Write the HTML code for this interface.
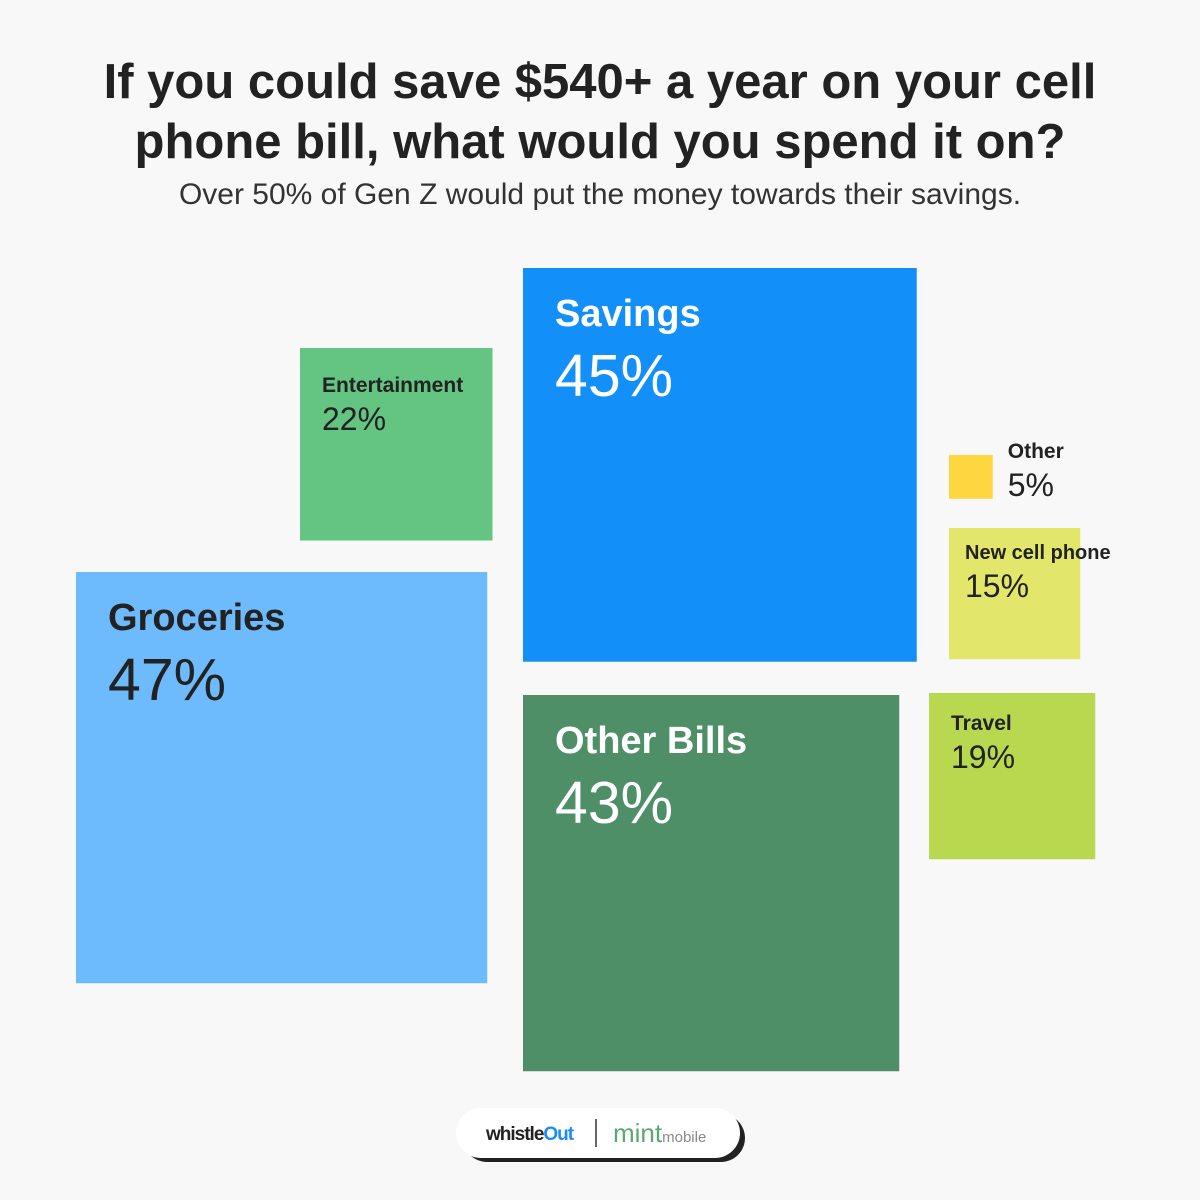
<!DOCTYPE html>
<html><head><meta charset="utf-8"><style>
body{margin:0;width:1200px;height:1200px;background:#f8f8f8;font-family:"Liberation Sans",sans-serif;overflow:hidden;position:relative}
.t{position:absolute;left:0;width:1200px;text-align:center;color:#222}
</style></head><body>
<div class="t" style="top:52px;font-size:49px;font-weight:bold;line-height:60px">If you could save $540+ a year on your cell<br>phone bill, what would you spend it on?</div>
<div class="t" style="top:178px;font-size:30px;color:#333">Over 50% of Gen Z would put the money towards their savings.</div>
<svg id="chart" width="1200" height="1200" style="position:absolute;left:0;top:0"></svg>
<div style="position:absolute;left:463px;top:1114px;width:282px;height:48px;border-radius:26px;background:#222"></div>
<div style="position:absolute;left:456px;top:1108px;width:284px;height:50px;border-radius:26px;background:#fff"></div>
<div style="position:absolute;left:486px;top:1124px;font-size:19px;font-weight:bold;letter-spacing:-1px;color:#222">whistle<span style="color:#1a8cff">Out</span></div>
<div style="position:absolute;left:595px;top:1119px;width:2px;height:28px;background:#666"></div>
<div style="position:absolute;left:613px;top:1118px;color:#5aa874;font-size:26px">mint<span style="font-size:15px;color:#888">mobile</span></div>
<script>
const categories=["Groceries","Savings","Other Bills","Entertainment","Other","New cell phone","Travel"];
const values=[47,45,43,22,5,15,19];
const colors=["#6dbbfc","#128ff9","#4e8f68","#64c482","#fdd640","#e2e66a","#b8d84f"];
const xs=[76,523,523,300,949,949,929];
const ys=[572,268,695,348,455,528,693];
const labelShift=[0,0,0,0,-41,-13,-7];
const big=[1,1,1,0,0,0,0];
const scale=v=>v*8.75;
const svg=document.getElementById('chart');
const NS="http://www.w3.org/2000/svg";
categories.forEach((c,i)=>{
  const s=scale(values[i]);
  const r=document.createElementNS(NS,'rect');
  
  
  r.setAttribute('x',xs[i]);r.setAttribute('y',ys[i]);r.setAttribute('width',s);r.setAttribute('height',s);r.setAttribute('fill',colors[i]);
  svg.appendChild(r);
  const b=big[i];
  const white=b&&i!==0;
  const lx=c==="Other"?xs[i]+s+15:xs[i]+(b?32:(c==="New cell phone"?16:22));
  const ly=ys[i]+labelShift[i];
  const t1=document.createElementNS(NS,'text');
  
  
  t1.setAttribute('x',lx);t1.setAttribute('y',ly+(b?58:44));
  t1.setAttribute('font-size',b?38:(c==="New cell phone"?20:21));t1.setAttribute('font-weight','bold');
  t1.setAttribute('fill',white?'#fff':'#222');t1.textContent=c;
  svg.appendChild(t1);
  const t2=document.createElementNS(NS,'text');
  
  
  t2.setAttribute('x',lx);t2.setAttribute('y',ly+(b?128:82));
  t2.setAttribute('font-size',b?59:32);
  t2.setAttribute('fill',white?'#fff':'#222');t2.textContent=values[i]+'%';
  svg.appendChild(t2);
});
</script>
</body></html>
